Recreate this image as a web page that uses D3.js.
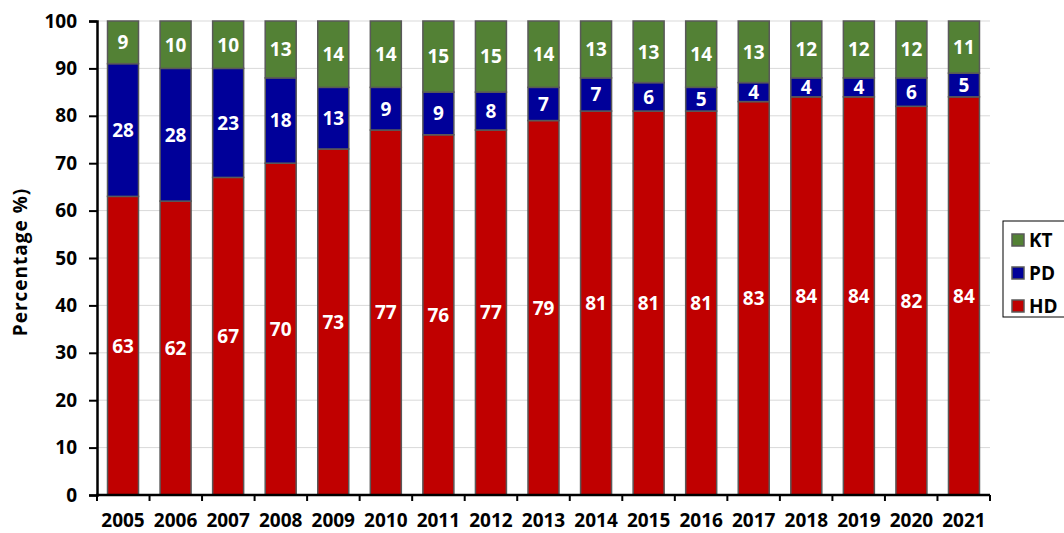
<!DOCTYPE html>
<html>
<head>
<meta charset="utf-8">
<script src="https://cdn.jsdelivr.net/npm/d3@7"></script>
<style>
  html, body { margin: 0; padding: 0; background: #fff; }
  svg { display: block; font-family: "Open Sans", "Noto Sans", sans-serif; }
</style>
</head>
<body>
<svg id="chart" width="1064" height="533"></svg>
<script>
// Dialysis / transplant modality shares by year (percent)
const years = ["2005","2006","2007","2008","2009","2010","2011","2012","2013","2014","2015","2016","2017","2018","2019","2020","2021"];
const hd = [63,62,67,70,73,77,76,77,79,81,81,81,83,84,84,82,84];
const pd = [28,28,23,18,13,9,9,8,7,7,6,5,4,4,4,6,5];
const kt = [9,10,10,13,14,14,15,15,14,13,13,14,13,12,12,12,11];
const yTicks = [0,10,20,30,40,50,60,70,80,90,100];
const seriesNames = ["HD","PD","KT"];
const seriesColors = { HD: "#c00000", PD: "#000099", KT: "#538135" };

const rows = years.map((y, i) => ({ year: y, HD: hd[i], PD: pd[i], KT: kt[i] }));

const svg = d3.select("#chart");
const margin = { left: 97, right: 74, top: 21, bottom: 38 };
const W = 1064, H = 533;
const innerW = W - margin.left - margin.right;
const innerH = H - margin.top - margin.bottom;
const FS = 19;

const x = d3.scaleBand().domain(years).range([0, innerW]).paddingInner(0.41).paddingOuter(0.2);
const y = d3.scaleLinear().domain([0, 100]).range([innerH, 0]);

const g = svg.append("g").attr("transform", `translate(${margin.left},${margin.top})`);

svg.append("defs").append("clipPath").attr("id", "plotClip")
  .append("rect").attr("x", -2).attr("y", -1).attr("width", innerW + 4).attr("height", innerH + 2);

// gridlines
g.append("g").selectAll("line").data(yTicks.filter(t => t > 0)).join("line")
  .attr("x1", 0).attr("x2", innerW)
  .attr("y1", d => y(d)).attr("y2", d => y(d))
  .attr("stroke", "#d9d9d9").attr("stroke-width", 1);

// stacked bars (clipped at 100%)
const stacked = d3.stack().keys(seriesNames)(rows);
const bars = g.append("g").attr("clip-path", "url(#plotClip)");
stacked.forEach(layer => {
  bars.append("g").selectAll("rect").data(layer).join("rect")
    .attr("x", d => x(d.data.year))
    .attr("width", x.bandwidth())
    .attr("y", d => y(Math.min(d[1], 100)))
    .attr("height", d => y(d[0]) - y(Math.min(d[1], 100)))
    .attr("fill", seriesColors[layer.key])
    .attr("stroke", "#595959").attr("stroke-width", 1.5);
});

// value labels
stacked.forEach(layer => {
  g.append("g").selectAll("text").data(layer).join("text")
    .attr("x", d => x(d.data.year) + x.bandwidth() / 2)
    .attr("y", d => y((d[0] + Math.min(d[1], 100)) / 2))
    .attr("dy", "0.36em")
    .attr("text-anchor", "middle")
    .attr("fill", "#fff")
    .attr("font-weight", "bold")
    .attr("font-size", FS)
    .text(d => d.data[layer.key]);
});

// y axis
const yAxis = g.append("g")
  .call(d3.axisLeft(y).tickValues(yTicks).tickSize(8).tickPadding(12));
yAxis.select(".domain").attr("stroke", "#000").attr("stroke-width", 2.5);
yAxis.selectAll(".tick line").attr("stroke", "#000").attr("stroke-width", 2);
yAxis.selectAll("text").attr("font-size", FS).attr("font-weight", "bold").attr("fill", "#000")
  .style("font-family", "'Open Sans', 'Noto Sans', sans-serif");

// x axis with ticks at category boundaries
const xAxisG = g.append("g").attr("transform", `translate(0,${innerH})`);
xAxisG.append("line").attr("x1", -1).attr("x2", innerW).attr("y1", 0).attr("y2", 0)
  .attr("stroke", "#000").attr("stroke-width", 2.5);
xAxisG.selectAll("line.tk").data(d3.range(years.length + 1)).join("line")
  .attr("class", "tk")
  .attr("x1", i => i * innerW / years.length).attr("x2", i => i * innerW / years.length)
  .attr("y1", 0).attr("y2", 6)
  .attr("stroke", "#000").attr("stroke-width", 2);
xAxisG.selectAll("text.yr").data(years).join("text")
  .attr("class", "yr")
  .attr("x", d => x(d) + x.bandwidth() / 2)
  .attr("y", 32)
  .attr("text-anchor", "middle")
  .attr("font-size", FS).attr("font-weight", "bold").attr("fill", "#000")
  .text(d => d);

// y axis title
svg.append("text")
  .attr("transform", `translate(27,262) rotate(-90)`)
  .attr("text-anchor", "middle")
  .attr("font-size", 19).attr("font-weight", "bold").attr("fill", "#000")
  .attr("letter-spacing", 1)
  .text("Percentage %)");

// legend
const legend = svg.append("g").attr("transform", "translate(1003,221)");
legend.append("rect").attr("x", 0).attr("y", 0).attr("width", 80).attr("height", 96)
  .attr("fill", "#fff").attr("stroke", "#000").attr("stroke-width", 1);
["KT","PD","HD"].forEach((k, i) => {
  const cy = 19 + i * 33;
  legend.append("rect").attr("x", 9).attr("y", cy - 6).attr("width", 12).attr("height", 12)
    .attr("fill", seriesColors[k]).attr("stroke", "#595959").attr("stroke-width", 1.5);
  legend.append("text").attr("x", 26).attr("y", cy).attr("dy", "0.36em")
    .attr("font-size", FS).attr("font-weight", "bold").attr("fill", "#000").text(k);
});
</script>
</body>
</html>
